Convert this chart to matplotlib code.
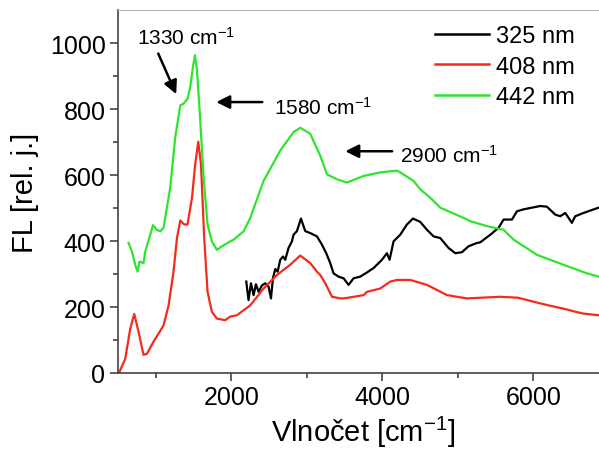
import matplotlib
matplotlib.use("Agg")
import matplotlib.pyplot as plt

plt.rcParams['font.family'] = ['Liberation Sans', 'DejaVu Sans']
plt.rcParams['mathtext.fontset'] = 'custom'
plt.rcParams['mathtext.rm'] = 'Liberation Sans'
plt.rcParams['mathtext.default'] = 'regular'

# ---- data ----
x_325 = [2199, 2229, 2261, 2296, 2327, 2362, 2406, 2450, 2494, 2526, 2552, 2583, 2614, 2649,
         2685, 2715, 2759, 2804, 2825, 2870, 2923, 2980, 3046, 3135, 3201, 3258, 3311, 3355,
         3421, 3488, 3554, 3620, 3709, 3800, 3885, 3996, 4062, 4097, 4150, 4238, 4327, 4407,
         4503, 4592, 4680, 4768, 4878, 4967, 5055, 5143, 5254, 5298, 5431, 5541, 5607, 5718,
         5784, 5872, 5982, 6092, 6181, 6291, 6357, 6424, 6512, 6556, 6666, 6865, 7000]
y_325 = [277, 221, 272, 236, 269, 246, 265, 272, 262, 226, 287, 315, 307, 343,
         353, 343, 379, 399, 419, 430, 468, 430, 424, 414, 389, 363, 333, 302,
         292, 287, 267, 287, 292, 305, 318, 343, 363, 343, 399, 419, 450, 468,
         458, 434, 414, 409, 379, 363, 366, 384, 394, 396, 419, 440, 465, 465,
         490, 496, 501, 506, 504, 480, 475, 485, 455, 475, 485, 501, 497]

x_408 = [517, 596, 662, 715, 772, 838, 883, 971, 1103, 1170, 1236, 1281, 1325, 1377, 1421, 1480,
         1523, 1563, 1599, 1642, 1686, 1744, 1810, 1920, 1987, 2075, 2252, 2428, 2605, 2781,
         2914, 3046, 3135, 3179, 3250, 3334, 3444, 3488, 3600, 3752, 3797, 3974, 4106, 4195,
         4371, 4415, 4592, 4636, 4857, 5122, 5300, 5563, 5800, 6004, 6200, 6401, 6550, 6666,
         6865, 7000]
y_408 = [2, 43, 134, 179, 125, 55, 58, 95, 144, 205, 308, 409, 462, 450, 450, 531,
         633, 701, 633, 409, 246, 185, 165, 160, 171, 175, 205, 256, 297, 328,
         356, 333, 307, 297, 270, 231, 226, 226, 230, 236, 246, 256, 277, 282,
         282, 279, 267, 262, 236, 226, 228, 231, 228, 216, 205, 195, 186, 180,
         175, 174]

x_442 = [640, 685, 728, 759, 786, 838, 861, 927, 963, 1015, 1060, 1103, 1192, 1258, 1325, 1368,
         1421, 1457, 1493, 1519, 1546, 1581, 1634, 1686, 1744, 1810, 1876, 1987, 2031, 2163,
         2252, 2428, 2649, 2825, 2914, 3046, 3179, 3268, 3355, 3400, 3532, 3752, 3974, 4195,
         4238, 4415, 4503, 4636, 4768, 5077, 5166, 5387, 5607, 5740, 6049, 6401, 6711, 6865,
         7000]
y_442 = [394, 368, 328, 307, 338, 333, 368, 419, 448, 434, 429, 440, 562, 714, 811, 816,
         831, 867, 928, 963, 918, 796, 592, 450, 399, 373, 384, 399, 404, 429,
         470, 582, 674, 730, 743, 725, 658, 602, 592, 587, 577, 597, 608, 613,
         608, 582, 557, 531, 501, 470, 460, 445, 434, 404, 358, 328, 302, 292,
         285]

labels = ['325 nm', '408 nm', '442 nm']
colors = ['black', '#f52a1c', '#2ee52e']

ann_text = ['1330 cm$^{-1}$', '1580 cm$^{-1}$', '2900 cm$^{-1}$']
ann_head = [(1271, 845), (1801, 821), (3510, 672)]
ann_tail = [(1033, 968), (2411, 821), (4132, 672)]
ann_textpos = [(1400, 1018), (2571, 805), (4240, 660)]

fig = plt.figure(figsize=(5.99, 4.56), dpi=100)
W, H = 599, 456
ax = fig.add_axes([118 / W, (H - 374) / H, 490.75 / W, 363 / H])

for xs, ys, lab, c in zip([x_325, x_408, x_442], [y_325, y_408, y_442], labels, colors):
    ax.plot(xs, ys, color=c, lw=1.6, label=lab)

ax.set_xlim(500, 7000)
ax.set_ylim(0, 1100)
ax.set_xticks([2000, 4000, 6000])
ax.set_xticks([1000, 3000, 5000], minor=True)
ax.set_yticks([0, 200, 400, 600, 800, 1000])
ax.set_yticks([100, 300, 500, 700, 900], minor=True)
ax.tick_params(which='major', direction='out', length=6, width=1.2, labelsize=18, pad=3,
               color='#444444')
ax.tick_params(which='minor', direction='out', length=3.5, width=1.2, color='#444444')
ax.spines['right'].set_visible(False)
ax.spines['top'].set_color('#bbbbbb')
ax.spines['left'].set_color('#444444')
ax.spines['bottom'].set_color('#444444')
for s in ['left', 'bottom']:
    ax.spines[s].set_linewidth(1.2)

ax.set_xlabel('Vlnočet [cm$^{-1}$]', fontsize=21, labelpad=3)
ax.set_ylabel('FL [rel. j.]', fontsize=21, labelpad=8)

for t, h, tl, tp in zip(ann_text, ann_head, ann_tail, ann_textpos):
    ax.annotate('', xy=h, xytext=tl,
                arrowprops=dict(arrowstyle='-|>', color='black', lw=1.8, mutation_scale=20,
                                shrinkA=0, shrinkB=0))
    ax.text(tp[0], tp[1], t, fontsize=15, ha='left' if tp[0] > 2000 else 'center', va='center')

leg = ax.legend(loc='upper left', bbox_to_anchor=(435 / W, 1 - 26 / H),
                bbox_transform=fig.transFigure, frameon=False, fontsize=17,
                handlelength=2.3, handletextpad=0.3, labelspacing=0.37, borderpad=0,
                borderaxespad=0)
for l in leg.get_lines():
    l.set_linewidth(1.8)

fig.savefig('out.png', dpi=100)
